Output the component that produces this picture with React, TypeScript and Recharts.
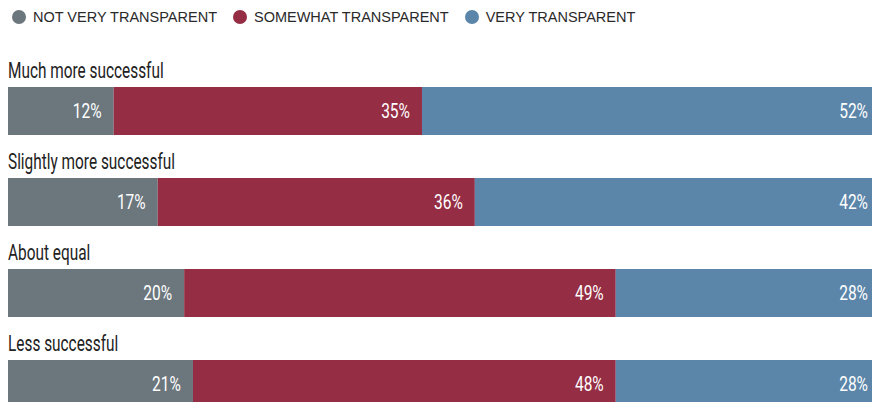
import { Bar, BarChart, LabelList, Legend, XAxis, YAxis } from "recharts";

const categories = [
  "Much more successful",
  "Slightly more successful",
  "About equal",
  "Less successful",
];
const notVery = [12, 17, 20, 21];
const somewhat = [35, 36, 49, 48];
const very = [52, 42, 28, 28];
// the blue segment in the source runs to the right edge, so it is longer
// than its printed share
const veryBar = [52, 46, 30, 30];

const series = [
  { key: "notVery", label: "notVery", name: "NOT VERY TRANSPARENT", color: "#6b767d" },
  { key: "somewhat", label: "somewhat", name: "SOMEWHAT TRANSPARENT", color: "#952d44" },
  { key: "veryBar", label: "very", name: "VERY TRANSPARENT", color: "#5b86a9" },
];

const data = categories.map((name, i) => ({
  name,
  notVery: notVery[i],
  somewhat: somewhat[i],
  very: very[i],
  veryBar: veryBar[i],
}));

// no condensed font installed, so squeeze Roboto horizontally
function CategoryLabel(props: any) {
  const { x, y, value } = props;
  return (
    <text
      transform={`translate(${x} ${y - 9}) scale(0.7 1)`}
      fontSize={22}
      fontFamily="Roboto, sans-serif"
      fill="#222"
    >
      {value}
    </text>
  );
}

function ValueLabel(props: any) {
  const { x, y, width, height, value } = props;
  return (
    <text
      transform={`translate(${x + width - 12} ${y + height / 2}) scale(0.74 1)`}
      textAnchor="end"
      dominantBaseline="central"
      fontSize={21}
      fontFamily="Roboto, sans-serif"
      fill="#fff"
    >
      {value}%
    </text>
  );
}

function LegendBox() {
  return (
    <div style={{ display: "flex", fontFamily: "'Liberation Sans', Arial, sans-serif", fontSize: 14.5, color: "#2a2a2a", paddingLeft: 4 }}>
      {series.map((s) => (
        <div key={s.key} style={{ display: "flex", alignItems: "center", marginRight: 16 }}>
          <span style={{ width: 14, height: 14, borderRadius: 7, background: s.color, marginRight: 7 }} />
          {s.name}
        </div>
      ))}
    </div>
  );
}

export default function App() {
  return (
    <BarChart
      width={872}
      height={421}
      data={data}
      layout="vertical"
      margin={{ top: 41, right: 0, bottom: 0, left: 0 }}
    >
      <Legend
        verticalAlign="top"
        align="left"
        wrapperStyle={{ top: 1, left: 0 }}
        content={<LegendBox />}
      />
      <XAxis type="number" domain={[0, "dataMax"]} hide />
      <YAxis type="category" dataKey="name" hide />
      {series.map((s, i) => (
        <Bar
          key={s.key}
          dataKey={s.key}
          name={s.name}
          stackId="a"
          fill={s.color}
          barSize={48}
          isAnimationActive={false}
        >
          {i === 0 && <LabelList dataKey="name" content={<CategoryLabel />} />}
          <LabelList dataKey={s.label} content={<ValueLabel />} />
        </Bar>
      ))}
    </BarChart>
  );
}
